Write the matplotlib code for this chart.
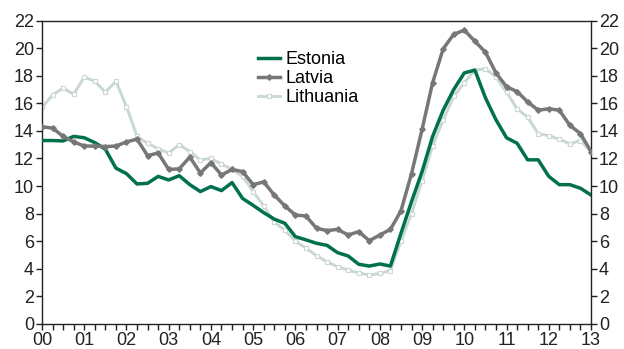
import numpy as np
import matplotlib
matplotlib.use("Agg")
import matplotlib.pyplot as plt
from matplotlib.ticker import MultipleLocator

plt.rcParams['font.family'] = ['Liberation Sans', 'DejaVu Sans']

# Quarterly series, 2000Q1 .. 2013Q1 (x in years since 2000)
quarters = np.arange(53) / 4.0

estonia = [13.3, 13.3, 13.27, 13.6, 13.5, 13.15, 12.67, 11.3, 10.9, 10.15,
           10.2, 10.7, 10.44, 10.75, 10.1, 9.6, 9.96, 9.67, 10.25, 9.1,
           8.6, 8.07, 7.6, 7.3, 6.33, 6.1, 5.85, 5.7, 5.17, 4.93,
           4.33, 4.2, 4.35, 4.2, 6.57, 8.87, 11.05, 13.6, 15.5, 17.0,
           18.2, 18.4, 16.4, 14.8, 13.5, 13.1, 11.9, 11.9, 10.7, 10.1,
           10.1, 9.84, 9.35]

latvia = [14.3, 14.2, 13.6, 13.2, 12.9, 12.9, 12.86, 12.9, 13.2, 13.4,
          12.2, 12.4, 11.2, 11.25, 12.1, 10.95, 11.7, 10.8, 11.2, 11.05,
          10.1, 10.3, 9.35, 8.56, 7.9, 7.83, 6.94, 6.77, 6.86, 6.45,
          6.7, 6.04, 6.45, 6.86, 8.2, 10.9, 14.1, 17.5, 19.95, 21.0,
          21.3, 20.5, 19.7, 18.2, 17.2, 16.85, 16.1, 15.5, 15.6, 15.5,
          14.4, 13.8, 12.5]

lithuania = [15.7, 16.6, 17.1, 16.65, 17.9, 17.6, 16.8, 17.6, 15.76, 13.6,
             13.1, 12.7, 12.4, 13.0, 12.5, 11.9, 12.0, 11.6, 11.2, 10.7,
             9.6, 8.56, 7.4, 6.8, 6.0, 5.5, 4.95, 4.5, 4.15, 3.9,
             3.7, 3.55, 3.67, 3.87, 6.0, 8.0, 10.4, 12.9, 14.8, 16.5,
             17.5, 18.4, 18.5, 17.9, 16.8, 15.6, 15.0, 13.8, 13.65, 13.4,
             13.05, 13.3, 12.5]

year_labels = ['00', '01', '02', '03', '04', '05', '06', '07', '08', '09',
               '10', '11', '12', '13']

c_est = '#00704f'
c_lat = '#777777'
c_lit = '#c9d8d0'

fig = plt.figure(figsize=(6.24, 3.49), dpi=100)
ax = fig.add_axes([42 / 624, 25 / 349, (591 - 42) / 624, (324 - 20.5) / 349])

ax.plot(quarters, estonia, color=c_est, lw=2.5, label='Estonia', zorder=3)
ax.plot(quarters, latvia, color=c_lat, lw=2.5, marker='D', ms=2.8,
        mfc=c_lat, mec=c_lat, label='Latvia', zorder=4)
ax.plot(quarters, lithuania, color=c_lit, lw=2.1, marker='s', ms=2.5,
        mfc='white', mec=c_lit, mew=0.8, label='Lithuania', zorder=2)

ax.set_xlim(0, 13)
ax.set_ylim(0, 22)
ax.set_xticks(np.arange(14))
ax.set_xticklabels(year_labels)
ax.xaxis.set_minor_locator(MultipleLocator(0.25))
ax.yaxis.set_major_locator(MultipleLocator(2))

for s in ax.spines.values():
    s.set_linewidth(1.0)
    s.set_color('#222222')

ax.tick_params(axis='x', which='both', direction='out', length=4, width=1.0,
               color='#222222', labelsize=13, pad=2, labelcolor='#222222')
ax.tick_params(axis='y', which='both', direction='out', length=4.5, width=1.0,
               color='#222222', labelsize=13, pad=1.2, labelcolor='#222222',
               left=True, right=True, labelleft=True, labelright=True)

leg = ax.legend(loc='upper left', bbox_to_anchor=((258 - 42) / 549, (324 - 51) / 303.5),
                frameon=False, fontsize=13, handlelength=1.2, handletextpad=0.33,
                labelspacing=0.12, borderaxespad=0, borderpad=0)

fig.savefig('out.png', dpi=100)
